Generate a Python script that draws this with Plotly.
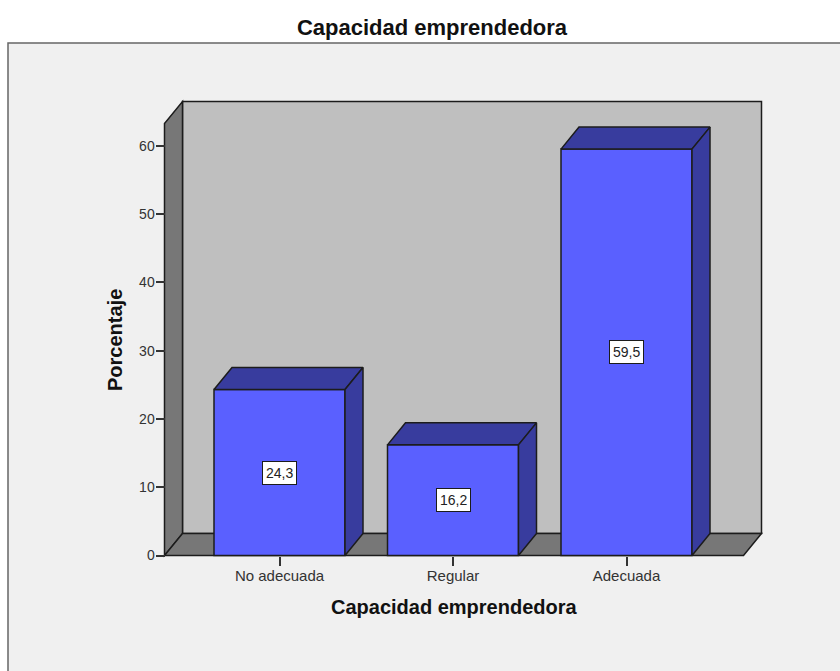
import plotly.graph_objects as go


OUTPUT_HTML = "out.html"

categories = ["No adecuada", "Regular", "Adecuada"]
values = [24.3, 16.2, 59.5]
value_labels = ["24,3", "16,2", "59,5"]
y_ticks = [0, 10, 20, 30, 40, 50, 60]

WIDTH, HEIGHT = 840, 671
# plot area is a bit larger than the box so wall outlines are not clipped
LEFT, RIGHT, TOP, BOTTOM = 158, 766, 96, 562
BOX_LEFT, BOX_RIGHT, BOX_TOP, BOX_BOTTOM = 164.5, 761.5, 101.5, 555.5
PX_PER_CAT = 173.5
PX_PER_UNIT = 6.83
FIRST_CAT_PX = 279.5

BAR_WIDTH = 131 / PX_PER_CAT
DX = 18 / PX_PER_CAT
DY = 22 / PX_PER_UNIT

x_range = [
    (LEFT - FIRST_CAT_PX) / PX_PER_CAT,
    (RIGHT - FIRST_CAT_PX) / PX_PER_CAT,
]
y_range = [
    (BOX_BOTTOM - BOTTOM) / PX_PER_UNIT,
    (BOX_BOTTOM - TOP) / PX_PER_UNIT,
]
x_lo = (BOX_LEFT - FIRST_CAT_PX) / PX_PER_CAT
x_hi = (BOX_RIGHT - FIRST_CAT_PX) / PX_PER_CAT
y_hi = (BOX_BOTTOM - BOX_TOP) / PX_PER_UNIT

FRONT = "#5A60FF"
DARK = "#383C9E"
WALL = "#BFBFBF"
SIDE = "#777777"
EDGE = "#1c1c1c"
FONT = "Liberation Sans"


def polygon_path(points):
    return "M " + " L ".join(f"{x},{y}" for x, y in points) + " Z"


def wall_shape(points, color):
    return dict(
        type="path",
        path=polygon_path(points),
        xref="x",
        yref="y",
        fillcolor=color,
        line=dict(color=EDGE, width=1.5),
        layer="below",
    )


def paper_x(px):
    return (px - LEFT) / (RIGHT - LEFT)


def paper_y(px):
    return (BOTTOM - px) / (BOTTOM - TOP)


fig = go.Figure()

fig.add_trace(
    go.Bar(
        x=list(range(len(categories))),
        y=values,
        width=BAR_WIDTH,
        marker=dict(color=FRONT, line=dict(color=EDGE, width=1.5)),
        showlegend=False,
        hoverinfo="skip",
    )
)

for i, value in enumerate(values):
    x0 = i - BAR_WIDTH / 2
    x1 = i + BAR_WIDTH / 2
    top_x = [x0, x0 + DX, x1 + DX, x1, x0]
    top_y = [value, value + DY, value + DY, value, value]
    side_x = [x1, x1 + DX, x1 + DX, x1, x1]
    side_y = [0, DY, value + DY, value, 0]
    for xs, ys in ((top_x, top_y), (side_x, side_y)):
        fig.add_trace(
            go.Scatter(
                x=xs,
                y=ys,
                mode="lines",
                fill="toself",
                fillcolor=DARK,
                line=dict(color=EDGE, width=1.5),
                showlegend=False,
                hoverinfo="skip",
            )
        )
    fig.add_annotation(
        x=i,
        y=value / 2,
        text=value_labels[i],
        showarrow=False,
        bgcolor="white",
        bordercolor=EDGE,
        borderwidth=1,
        borderpad=3,
        font=dict(family=FONT, size=14, color="#222222"),
    )

# axis titles as annotations, the originals are not centred on the plot area
fig.add_annotation(
    xref="paper",
    yref="paper",
    x=paper_x(454),
    y=paper_y(607),
    xanchor="center",
    yanchor="middle",
    text="<b>Capacidad emprendedora</b>",
    showarrow=False,
    font=dict(family=FONT, size=20, color="#111111"),
)
fig.add_annotation(
    xref="paper",
    yref="paper",
    x=paper_x(115),
    y=paper_y(340),
    xanchor="center",
    yanchor="middle",
    text="<b>Porcentaje</b>",
    textangle=-90,
    showarrow=False,
    font=dict(family=FONT, size=20, color="#111111"),
)

shapes = [
    # grey panel behind everything, runs off the right and bottom edge
    dict(
        type="rect",
        xref="paper",
        yref="paper",
        x0=paper_x(8),
        x1=paper_x(WIDTH + 10),
        y0=paper_y(HEIGHT + 10),
        y1=paper_y(43),
        fillcolor="#F0F0F0",
        line=dict(color="#666666", width=1.5),
        layer="below",
    ),
    wall_shape(
        [(x_lo + DX, DY), (x_hi, DY), (x_hi, y_hi), (x_lo + DX, y_hi)],
        WALL,
    ),
    wall_shape(
        [(x_lo, 0), (x_lo + DX, DY), (x_lo + DX, y_hi), (x_lo, y_hi - DY)],
        SIDE,
    ),
    wall_shape(
        [(x_lo, 0), (x_hi - DX, 0), (x_hi, DY), (x_lo + DX, DY)],
        SIDE,
    ),
]

fig.update_layout(
    width=WIDTH,
    height=HEIGHT,
    margin=dict(l=LEFT, r=WIDTH - RIGHT, t=TOP, b=HEIGHT - BOTTOM, pad=0),
    paper_bgcolor="white",
    plot_bgcolor="rgba(0,0,0,0)",
    shapes=shapes,
    title=dict(
        text="<b>Capacidad emprendedora</b>",
        x=432 / WIDTH,
        xanchor="center",
        y=1 - 27 / HEIGHT,
        yanchor="middle",
        font=dict(family=FONT, size=22, color="#111111"),
    ),
    font=dict(family=FONT),
)
fig.update_xaxes(
    range=x_range,
    anchor="free",
    position=paper_y(BOX_BOTTOM),
    tickvals=list(range(len(categories))),
    ticktext=categories,
    ticks="outside",
    ticklen=9,
    tickwidth=1.5,
    tickcolor="#333333",
    ticklabelstandoff=-3,
    showgrid=False,
    zeroline=False,
    showline=False,
    tickfont=dict(family=FONT, size=15, color="#333333"),
)
fig.update_yaxes(
    range=y_range,
    anchor="free",
    position=paper_x(BOX_LEFT),
    tickvals=y_ticks,
    ticks="outside",
    ticklen=9,
    tickwidth=1.5,
    tickcolor="#333333",
    ticklabelstandoff=-2,
    showgrid=False,
    zeroline=False,
    showline=False,
    tickfont=dict(family=FONT, size=14, color="#333333"),
)

fig.write_html(
    OUTPUT_HTML,
    config={"displayModeBar": False},
    post_script="document.body.style.margin='0';",
)
